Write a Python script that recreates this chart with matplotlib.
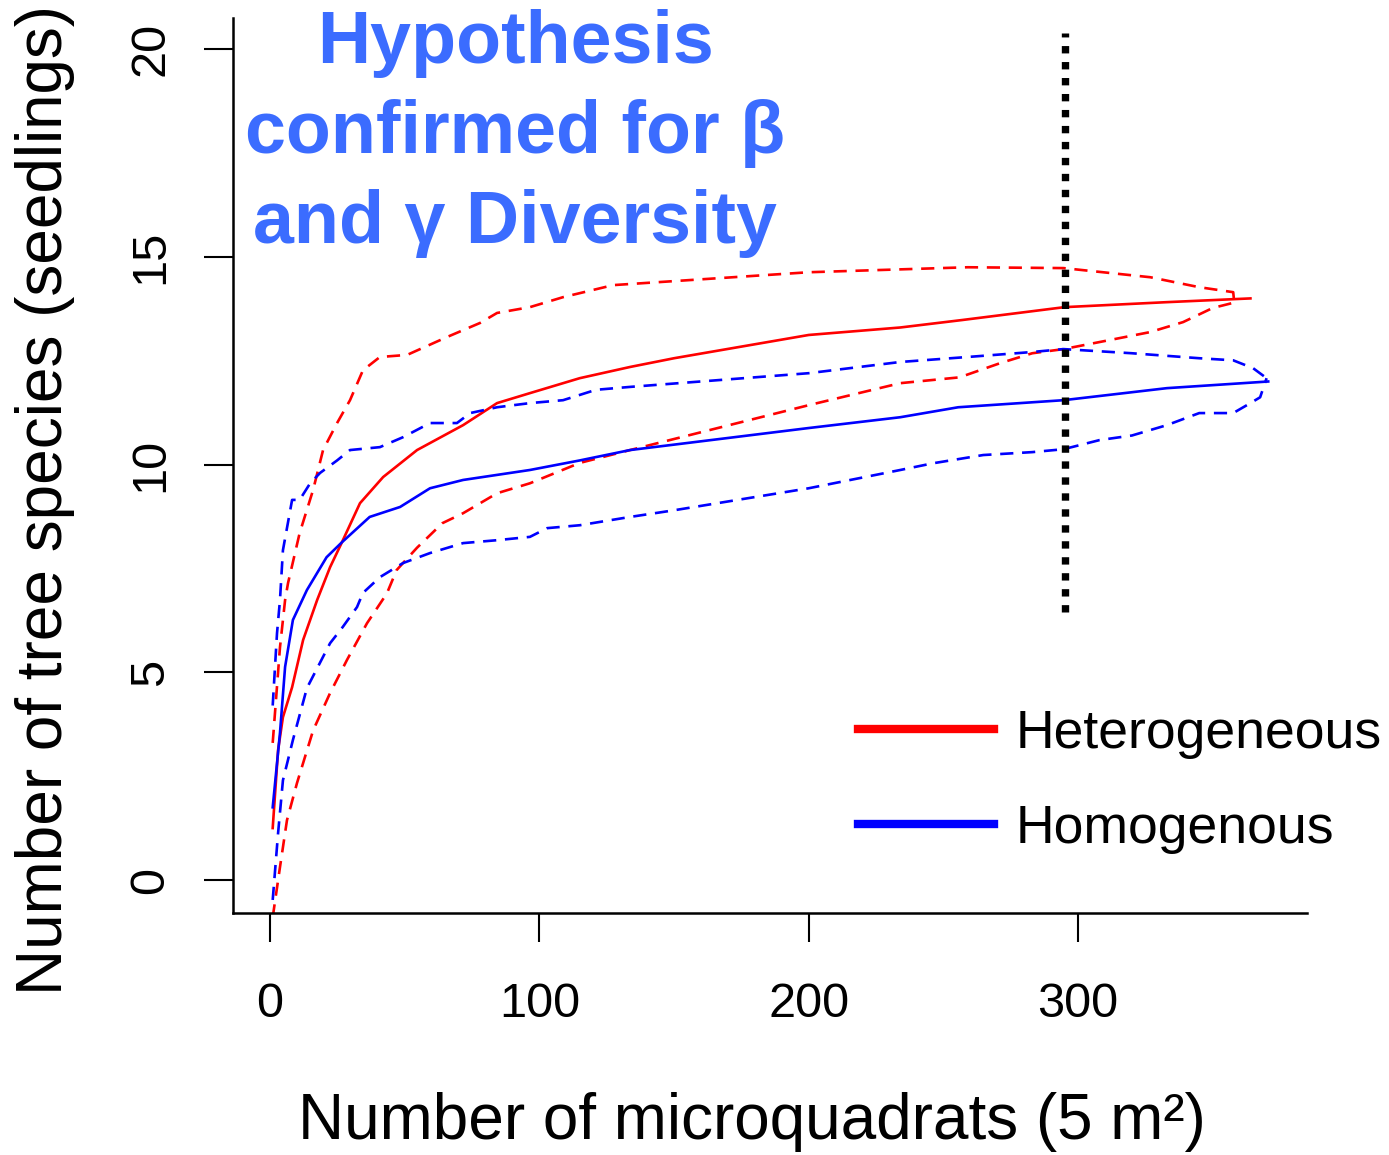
import numpy as np
import matplotlib
matplotlib.use("Agg")
import matplotlib.pyplot as plt
from matplotlib.lines import Line2D

plt.rcParams['font.family'] = ['Liberation Sans', 'DejaVu Sans']

# Heterogeneous (red)
het_x = [1, 3, 4.8, 8.2, 12.3, 17.5, 22.3, 26.7, 33.4, 42, 54.6, 71.7, 84.3, 96.5,
         115, 133.7, 150, 200, 234, 257, 295, 333, 364]
het_y = [1.25, 3.13, 3.92, 4.64, 5.78, 6.74, 7.53, 8.13, 9.07, 9.7, 10.35, 10.95, 11.48, 11.72,
         12.08, 12.35, 12.56, 13.12, 13.3, 13.48, 13.79, 13.91, 14.0]
het_up_x = [1, 3.7, 5.6, 6.7, 11, 16, 19.7, 24.9, 29.7, 34.5, 40.8, 50.9, 65.7, 78, 84.3,
            96.5, 108.8, 127.4, 200, 259, 294.6, 326.8, 345, 357.6, 358]
het_up_y = [3.3, 5.6, 6.74, 7.15, 8.35, 9.39, 10.35, 11.0, 11.55, 12.27, 12.59, 12.64, 13.07, 13.41, 13.65,
            13.79, 14.03, 14.32, 14.63, 14.75, 14.73, 14.51, 14.27, 14.15, 13.9]
het_lo_x = [1, 3.7, 6.3, 10, 16, 22.3, 28.6, 36, 43.4, 47, 54.6, 64, 71.7, 84.3, 96.5, 115,
            133.7, 200, 234, 256, 271, 283, 294.6, 308, 326.8, 339, 350, 358]
het_lo_y = [-0.9, 0.31, 1.44, 2.33, 3.6, 4.5, 5.3, 6.18, 6.9, 7.46, 8.0, 8.59, 8.83, 9.31, 9.55, 10.04,
            10.35, 11.43, 11.96, 12.1, 12.44, 12.68, 12.78, 12.95, 13.19, 13.43, 13.77, 13.9]

# Homogenous (blue)
hom_x = [1, 3.7, 5.6, 8.5, 13.7, 21, 26.7, 37, 48.3, 59.4, 71.7, 96.5, 115, 133.7,
         200, 234, 255.5, 294.6, 333, 370.6]
hom_y = [1.75, 3.54, 5.13, 6.26, 6.98, 7.77, 8.13, 8.74, 8.98, 9.43, 9.63, 9.87, 10.1, 10.35,
         10.88, 11.14, 11.38, 11.55, 11.84, 12.0]
hom_up_x = [1, 2.6, 3.7, 4.8, 8.2, 11, 14.9, 18.6, 24.9, 29.7, 40.8, 49.4, 59.4, 69.4, 74.3,
            84.3, 96.5, 108.8, 121, 133.7, 200, 234, 259, 283, 294.6, 320, 345, 357.6, 365, 370]
hom_up_y = [4.2, 5.94, 6.74, 7.94, 9.15, 9.15, 9.55, 9.8, 10.1, 10.35, 10.42, 10.66, 11.0, 11.0, 11.24,
            11.38, 11.48, 11.55, 11.8, 11.87, 12.2, 12.47, 12.59, 12.71, 12.78, 12.68, 12.56, 12.51, 12.32, 12.08]
hom_lo_x = [1, 3, 4.8, 8.5, 13.7, 22.3, 27, 32.3, 34.5, 40.8, 49.4, 59.4, 71.7, 84.3, 96.5, 102.9,
            115, 133.7, 150, 200, 234, 246, 264.8, 283, 294.6, 308, 320, 333, 345, 357.6, 364, 367.6, 370]
hom_lo_y = [-0.48, 1.13, 2.4, 3.37, 4.62, 5.7, 6.09, 6.57, 6.91, 7.29, 7.63, 7.87, 8.11, 8.18, 8.26, 8.47,
            8.54, 8.74, 8.9, 9.43, 9.87, 10.03, 10.23, 10.3, 10.37, 10.59, 10.7, 10.95, 11.24, 11.24, 11.48, 11.62, 12.08]

cut_x = 295
cut_y = [6.45, 20.4]

labels = ["Heterogeneous", "Homogenous"]
title_lines = ["Hypothesis", "confirmed for \u03b2", "and \u03b3 Diversity"]

W, H = 1389, 1155
fig = plt.figure(figsize=(W / 100, H / 100), dpi=100)
ax = fig.add_axes([233 / W, 1 - 913 / H, (1307 - 233) / W, (913 - 18) / H])

dash = (0, (5, 3.3))
lw = 1.9
ax.plot(het_x, het_y, color="red", lw=lw)
ax.plot(het_up_x, het_up_y, color="red", lw=lw, ls=dash)
ax.plot(het_lo_x, het_lo_y, color="red", lw=lw, ls=dash)
ax.plot(hom_x, hom_y, color="blue", lw=lw)
ax.plot(hom_up_x, hom_up_y, color="blue", lw=lw, ls=dash)
ax.plot(hom_lo_x, hom_lo_y, color="blue", lw=lw, ls=dash)
ax.plot([cut_x, cut_x], cut_y, color="black", lw=5.3, ls=(0, (1, 1.17)),
        dash_capstyle="butt")

ax.set_xlim(-13.74, 385.0)
ax.set_ylim(-0.794, 20.75)
ax.spines['top'].set_visible(False)
ax.spines['right'].set_visible(False)
for s in ['left', 'bottom']:
    ax.spines[s].set_linewidth(1.8)
ax.set_xticks([0, 100, 200, 300])
ax.set_yticks([0, 5, 10, 15, 20])
ax.tick_params(axis='both', length=21, width=1.5, labelsize=35)
ax.tick_params(axis='x', pad=29)
ax.tick_params(axis='y', pad=22)
for lab in ax.get_yticklabels():
    lab.set_rotation(90)
    lab.set_va('center')

fig.text(752 / W, 1 - 1122 / H, "Number of microquadrats (5 m\u00b2)", fontsize=46,
         ha='center', va='center')
fig.text(45 / W, 1 - 500 / H, "Number of tree species (seedlings)", fontsize=46,
         ha='center', va='center', rotation=90)

for line, base in zip(title_lines, [63, 153, 243]):
    fig.text(515 / W, 1 - base / H, line, fontsize=53, fontweight='bold',
             color='#3b6cff', ha='center', va='baseline')

handles = [Line2D([], [], color="red", lw=6), Line2D([], [], color="blue", lw=6)]
fig.legend(handles, labels, loc='upper left', bbox_to_anchor=(858 / W, 1 - 709 / H),
           frameon=False, fontsize=38.5, handlelength=2.55, handletextpad=0.4,
           labelspacing=0.84, borderpad=0, borderaxespad=0)

fig.savefig("out.png", dpi=100)
